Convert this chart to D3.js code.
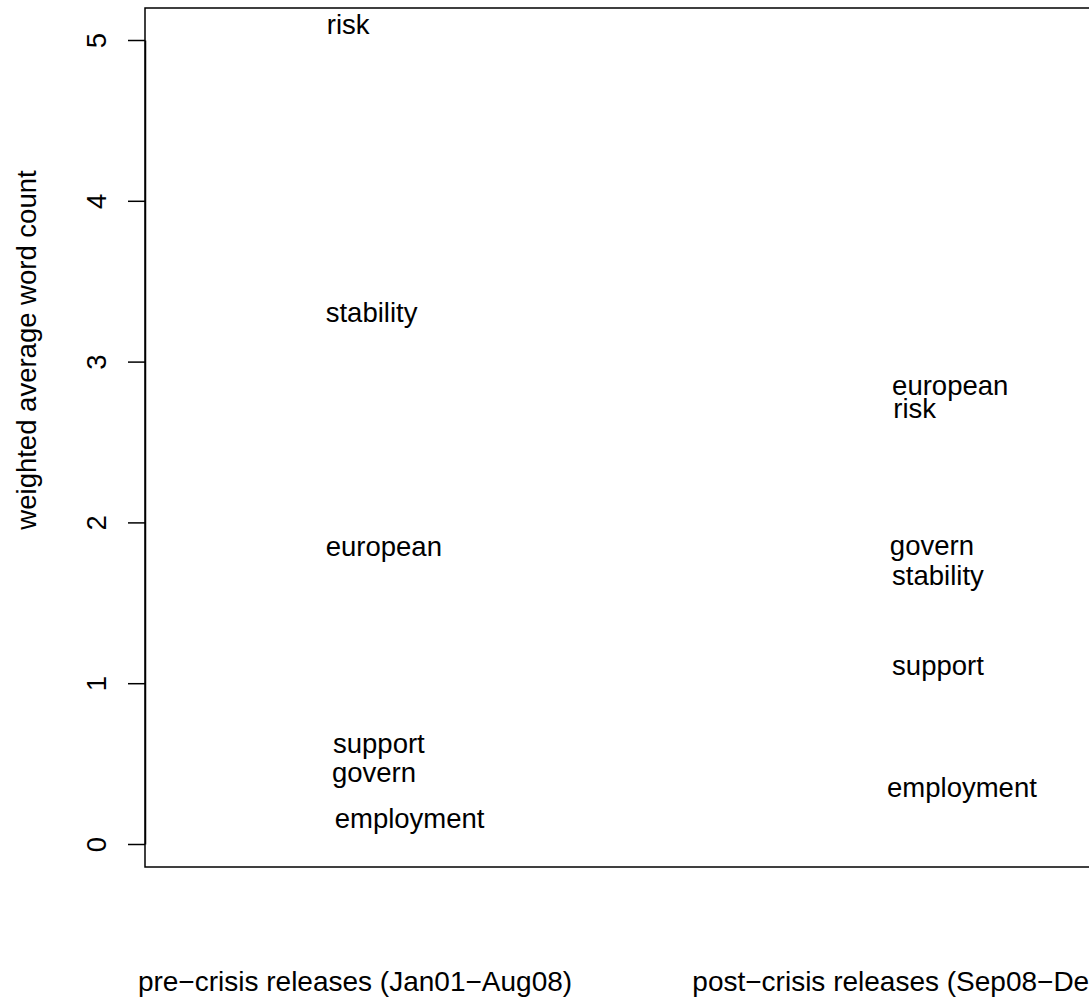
<html>
<head>
<script src="https://d3js.org/d3.v7.min.js"></script>
<style>
  body { margin: 0; background: #fff; }
  svg text { font-family: "Liberation Sans", Arial, sans-serif; font-size: 27.5px; fill: #000; }
  svg text.cat { font-size: 28px; }
</style>
</head>
<body>
<script>
// categories (x axis)
var categories = ["pre\u2212crisis releases (Jan01\u2212Aug08)", "post\u2212crisis releases (Sep08\u2212Dec12)"];

// words and their weighted average count per period
var preWords  = ["risk", "stability", "european", "support", "govern", "employment"];
var preValues = [5.098, 3.307, 1.851, 0.626, 0.446, 0.160];
var preX      = [0.950, 0.948, 0.948, 0.961, 0.959, 0.964];

var postWords  = ["european", "risk", "govern", "stability", "support", "employment"];
var postValues = [2.853, 2.710, 1.858, 1.671, 1.111, 0.353];
var postX      = [1.954, 1.956, 1.950, 1.954, 1.954, 1.945];

var yTicks = [0, 1, 2, 3, 4, 5];

var width = 1089, height = 1003;
var box = {left: 145, top: 8, right: 1100, bottom: 867};

var svg = d3.select("body").append("svg")
  .attr("width", width)
  .attr("height", height);

var x = d3.scaleLinear().domain([1, 2]).range([355, 918]);
var y = d3.scaleLinear().domain([0, 5]).range([844, 40]);

// plot box
svg.append("rect")
  .attr("x", box.left).attr("y", box.top)
  .attr("width", box.right - box.left).attr("height", box.bottom - box.top)
  .attr("fill", "none").attr("stroke", "#000").attr("stroke-width", 1.5);

// y axis
var yAxis = svg.append("g")
  .attr("transform", "translate(" + box.left + ",0)")
  .call(d3.axisLeft(y).tickValues(yTicks).tickSize(17).tickSizeOuter(0).tickFormat(d3.format("d")));
yAxis.selectAll("path, line").attr("stroke", "#000").attr("stroke-width", 1.5);
yAxis.selectAll("text")
  .attr("font-family", null).attr("font-size", null)
  .attr("transform", "rotate(-90)")
  .attr("x", 0).attr("y", -39).attr("dy", 0)
  .attr("text-anchor", "middle");

// y axis title
svg.append("text")
  .attr("transform", "translate(36,350) rotate(-90)")
  .attr("text-anchor", "middle")
  .text("weighted average word count");

// category labels
svg.selectAll(".cat")
  .data(categories)
  .enter().append("text")
  .attr("class", "cat")
  .attr("x", function(d, i) { return x(i + 1); })
  .attr("y", 991)
  .attr("text-anchor", "middle")
  .text(function(d) { return d; });

// word labels
function drawWords(words, values, xs) {
  svg.append("g").selectAll("text")
    .data(words)
    .enter().append("text")
    .attr("x", function(d, i) { return x(xs[i]); })
    .attr("y", function(d, i) { return y(values[i]); })
    .attr("dy", "0.36em")
    .text(function(d) { return d; });
}
drawWords(preWords, preValues, preX);
drawWords(postWords, postValues, postX);
</script>
</body>
</html>
